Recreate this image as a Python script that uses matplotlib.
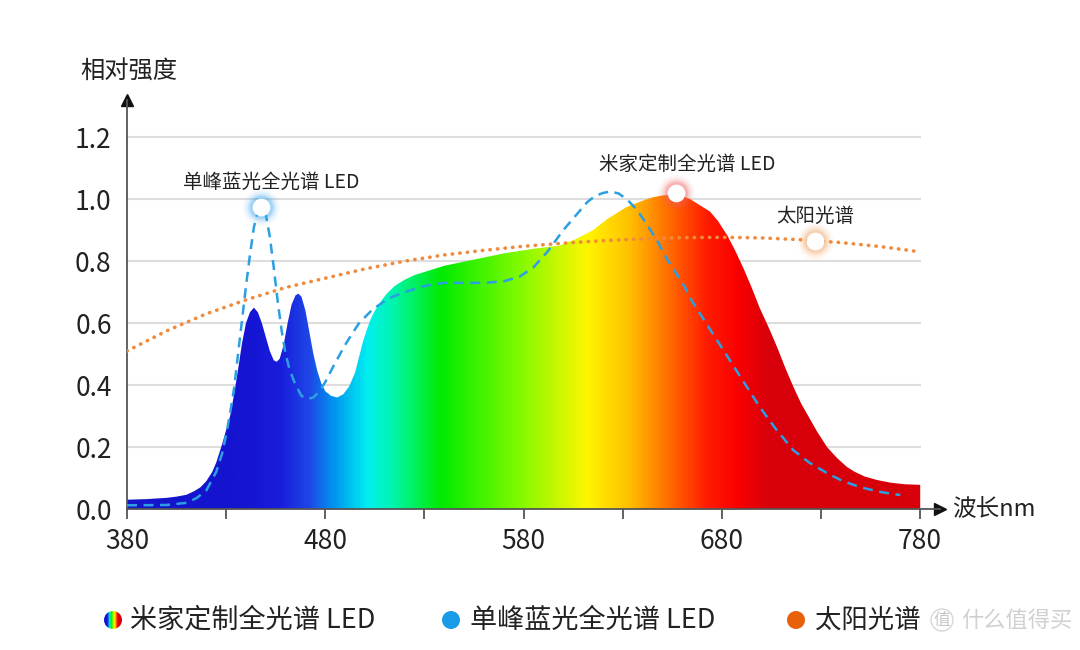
import matplotlib
matplotlib.use("Agg")
import matplotlib.pyplot as plt
import numpy as np
from matplotlib.colors import LinearSegmentedColormap
from matplotlib.patches import PathPatch, Circle, Ellipse

plt.rcParams['font.family'] = ['Noto Sans CJK SC', 'DejaVu Sans']

# 米家定制全光谱 LED (彩色填充)
wl_mijia = [380, 390, 400, 405, 410, 414, 417, 420, 423, 425, 428, 430, 432, 434, 436,
            438, 440, 442, 444, 446, 448, 450, 452, 454, 455.5, 457, 459, 461, 463, 465,
            466.5, 468, 470, 472, 474, 476, 478, 480, 483, 486, 489, 492, 495, 497, 499,
            501, 503, 505, 508, 511, 515, 520, 525, 540, 555, 570, 585, 598, 606, 615,
            622, 632, 640, 645, 650, 656, 660, 664, 669, 674, 678, 683, 687, 691, 695,
            699, 704, 708, 712, 716, 720, 724, 728, 733, 738, 743, 747, 752, 758, 765,
            772, 780]
val_mijia = [0.03, 0.032, 0.036, 0.04, 0.046, 0.058, 0.07, 0.09, 0.12, 0.15, 0.21, 0.255, 0.30, 0.37, 0.45,
             0.535, 0.60, 0.635, 0.65, 0.635, 0.60, 0.555, 0.51, 0.48, 0.475, 0.485, 0.53, 0.60, 0.66, 0.69,
             0.695, 0.685, 0.64, 0.57, 0.50, 0.445, 0.405, 0.38, 0.365, 0.36, 0.37, 0.395, 0.44, 0.49, 0.54,
             0.58, 0.615, 0.64, 0.67, 0.695, 0.72, 0.74, 0.755, 0.785, 0.805, 0.825, 0.84, 0.85, 0.87, 0.90,
             0.935, 0.975, 0.995, 1.006, 1.012, 1.015, 1.01, 1.0, 0.98, 0.96, 0.93, 0.88, 0.83, 0.775, 0.715,
             0.65, 0.58, 0.52, 0.455, 0.395, 0.34, 0.295, 0.25, 0.20, 0.165, 0.136, 0.12, 0.105, 0.094, 0.085,
             0.08, 0.078]

# 单峰蓝光全光谱 LED (蓝色虚线)
wl_blue = [380, 400, 410, 415, 420, 425, 428, 430, 432, 434, 436, 438, 440, 442, 444,
           446, 448, 450, 452, 454, 456, 458, 460, 462, 465, 468, 471, 474, 477, 480,
           484, 490, 497, 504, 512, 520, 530, 540, 550, 560, 570, 578, 585, 592, 600,
           606, 612, 616, 620, 624, 628, 632, 637, 642, 647, 652, 657, 661, 665, 670,
           676, 683, 690, 699, 707, 716, 724, 733, 741, 750, 760, 770]
val_blue = [0.012, 0.013, 0.02, 0.035, 0.06, 0.12, 0.18, 0.24, 0.31, 0.39, 0.50, 0.61, 0.72, 0.82, 0.91,
            0.96, 0.975, 0.95, 0.88, 0.78, 0.67, 0.575, 0.50, 0.45, 0.40, 0.365, 0.355, 0.36, 0.38, 0.41,
            0.46, 0.53, 0.60, 0.645, 0.68, 0.70, 0.72, 0.73, 0.73, 0.73, 0.735, 0.75, 0.78, 0.83, 0.90,
            0.945, 0.99, 1.01, 1.02, 1.025, 1.018, 1.0, 0.967, 0.92, 0.87, 0.81, 0.76, 0.72, 0.67, 0.62,
            0.56, 0.49, 0.42, 0.33, 0.26, 0.19, 0.15, 0.116, 0.09, 0.07, 0.055, 0.045]

# 太阳光谱 (橙色点线)
wl_sun = [380, 400, 420, 440, 460, 480, 500, 520, 540, 560, 580, 600, 620, 640, 660,
          680, 700, 720, 740, 760, 780]
val_sun = [0.51, 0.575, 0.63, 0.675, 0.715, 0.745, 0.775, 0.80, 0.82, 0.835, 0.848, 0.858, 0.866, 0.872, 0.876,
           0.877, 0.875, 0.869, 0.86, 0.847, 0.83]

# 标注点
labels = ['单峰蓝光全光谱 LED', '米家定制全光谱 LED', '太阳光谱']
mark_x = [447.6, 657, 727]
mark_y = [0.975, 1.02, 0.865]
label_x = [452.5, 662.5, 727]
label_y = [1.055, 1.113, 0.944]
glow_colors = ['#3aa6f0', '#f06060', '#f0a060']

x_ticks = [380, 430, 480, 530, 580, 630, 680, 730, 780]
x_ticklabels = ['380', '', '480', '', '580', '', '680', '', '780']
y_ticks = [0.0, 0.2, 0.4, 0.6, 0.8, 1.0, 1.2]

legend_names = ['米家定制全光谱 LED', '单峰蓝光全光谱 LED', '太阳光谱']

# 光谱渐变色
stops = [(380, (20, 20, 200)), (440, (20, 20, 210)), (457, (25, 30, 220)), (471, (30, 70, 230)),
         (484, (0, 150, 240)), (501, (0, 240, 240)), (514, (0, 245, 170)), (538, (0, 235, 0)),
         (578, (130, 250, 0)), (612, (255, 245, 0)), (634, (255, 190, 0)), (654, (255, 105, 0)),
         (672, (255, 30, 0)), (688, (250, 0, 0)), (704, (215, 0, 10)), (780, (215, 0, 10))]
cmap = LinearSegmentedColormap.from_list(
    'spec', [((w - 380) / 400, tuple(c / 255 for c in col)) for w, col in stops])

fig = plt.figure(figsize=(10.8, 6.5), dpi=100)
ax = fig.add_axes([0.1176, 0.2169, 0.7528, 0.6292])

# 网格
for y in y_ticks[1:]:
    ax.plot([380, 780], [y, y], color='#dddddd', lw=1.5, zorder=1)

# 渐变填充
poly = ax.fill_between(wl_mijia, val_mijia, 0, color='none', lw=0)
patch = PathPatch(poly.get_paths()[0], transform=ax.transData, facecolor='none', edgecolor='none')
ax.add_patch(patch)
grad = np.linspace(0, 1, 800).reshape(1, -1)
img = ax.imshow(grad, extent=[380, 780, 0, 1.1], aspect='auto', cmap=cmap, origin='lower', zorder=2)
img.set_clip_path(patch)

ax.plot(wl_sun, val_sun, color='#f08a3c', lw=2.6, dashes=(0.1, 2.0), dash_capstyle='round', zorder=3)
ax.plot(wl_blue, val_blue, color='#2b9fe2', lw=1.8, dashes=(4, 2.6), zorder=4)

# 发光标记
for mx, my, gc in zip(mark_x, mark_y, glow_colors):
    for s, a in [(700, 0.06), (520, 0.1), (380, 0.16), (280, 0.25)]:
        ax.scatter([mx], [my], s=s, color=gc, alpha=a, lw=0, zorder=5)
    ax.scatter([mx], [my], s=160, color='white', lw=0, zorder=6)

for t, lx, ly in zip(labels, label_x, label_y):
    ax.text(lx, ly, t, ha='center', va='center', fontsize=14, color='#222222', zorder=7)

ax.set_xlim(380, 790)
ax.set_ylim(0, 1.32)
for s in ['top', 'right']:
    ax.spines[s].set_visible(False)
for s in ['left', 'bottom']:
    ax.spines[s].set_color('#555555')
    ax.spines[s].set_linewidth(1.3)
ax.plot(1, 0, marker='>', color='#111111', ms=8, transform=ax.transAxes, clip_on=False)
ax.plot(0, 1, marker='^', color='#111111', ms=8, transform=ax.transAxes, clip_on=False)

ax.set_xticks(x_ticks)
ax.set_xticklabels(x_ticklabels)
ax.set_yticks(y_ticks)
ax.set_yticklabels([f'{v:.1f}' for v in y_ticks])
ax.tick_params(axis='x', length=7, width=1.3, color='#555555', pad=7, labelsize=19, labelcolor='#222222')
ax.tick_params(axis='y', length=0, pad=11, labelsize=19, labelcolor='#222222')

fig.text(80 / 1080, 1 - 72 / 650, '相对强度', fontsize=17.5, color='#222222', va='center', ha='left')
fig.text(952 / 1080, 1 - 510 / 650, '波长nm', fontsize=17, color='#222222', va='center', ha='left')

# 图例
ly_fig = 1 - 620 / 650
icon = fig.add_axes([104 / 1080, 1 - 629 / 650, 18 / 1080, 18 / 650])
icon.imshow(np.linspace(0.1, 0.95, 200).reshape(1, -1), cmap=cmap, aspect='auto', extent=[0, 1, 0, 1])
circ = Circle((0.5, 0.5), 0.5, transform=icon.transAxes)
icon.images[0].set_clip_path(circ)
icon.axis('off')
fig.text(130 / 1080, ly_fig, legend_names[0], fontsize=19.5, color='#222222', va='center')
fig.patches.append(Ellipse((451 / 1080, ly_fig), 18 / 1080, 18 / 650, transform=fig.transFigure,
                           facecolor='#1a9be8', edgecolor='none'))
fig.text(470 / 1080, ly_fig, legend_names[1], fontsize=19.5, color='#222222', va='center')
fig.patches.append(Ellipse((796 / 1080, ly_fig), 18 / 1080, 18 / 650, transform=fig.transFigure,
                           facecolor='#e8600a', edgecolor='none'))
fig.text(815 / 1080, ly_fig, legend_names[2], fontsize=19, color='#222222', va='center')

# 水印
fig.text(942 / 1080, ly_fig, '值', fontsize=12, color='#c8c8c8', ha='center', va='center',
         bbox=dict(boxstyle='circle,pad=0.15', fc='white', ec='#d0d0d0', alpha=0.85))
fig.text(961 / 1080, ly_fig, '什么值得买', fontsize=16, color='#d0d0d0', va='center')

fig.savefig('out.png', dpi=100)
